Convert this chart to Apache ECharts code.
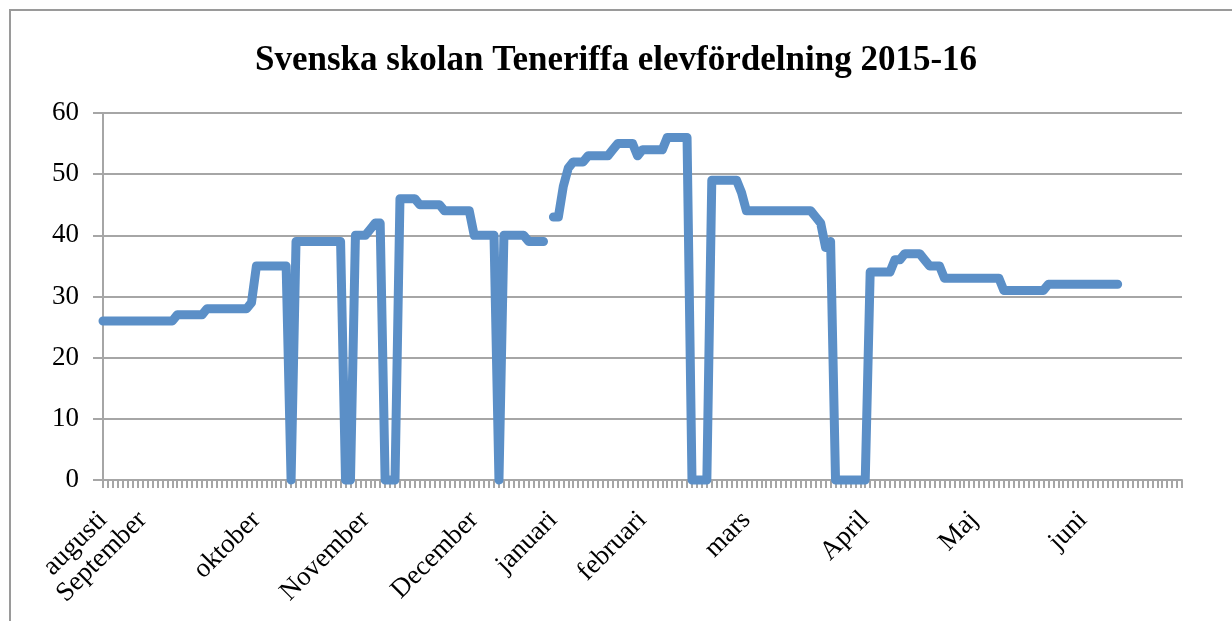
<!DOCTYPE html>
<html>
<head>
<meta charset="utf-8">
<script src="https://cdn.jsdelivr.net/npm/echarts@6/dist/echarts.min.js"></script>
<style>
  html, body { margin: 0; padding: 0; background: #fff; }
  #chart { width: 1232px; height: 621px; }
</style>
</head>
<body>
<div id="chart"></div>
<script>
// månadsetiketter och vilken skoldag (index) de hör till
const monthLabels = ['augusti', 'September', 'oktober', 'November', 'December', 'januari', 'februari', 'mars', 'April', 'Maj', 'juni']
const monthIndex = [0, 8, 31, 53, 75, 91, 109, 130, 154, 176, 198]
const dayCount = 219

// antal elever per skoldag (null = ingen uppgift)
const students = [
  26, 26, 26, 26, 26, 26, 26, 26, 26, 26, 26, 26, 26, 26, 26,
  27, 27, 27, 27, 27, 27,
  28, 28, 28, 28, 28, 28, 28, 28, 28,
  29,
  35, 35, 35, 35, 35, 35, 35,
  0,
  39, 39, 39, 39, 39, 39, 39, 39, 39, 39,
  0, 0,
  40, 40, 40, 41, 42, 42,
  0, 0, 0,
  46, 46, 46, 46,
  45, 45, 45, 45, 45,
  44, 44, 44, 44, 44, 44,
  40, 40, 40, 40, 40,
  0,
  40, 40, 40, 40, 40,
  39, 39, 39, 39,
  null,
  43, 43, 48, 51, 52, 52, 52,
  53, 53, 53, 53, 53,
  54, 55, 55, 55, 55, 53,
  54, 54, 54, 54, 54,
  56, 56, 56, 56, 56,
  0, 0, 0, 0,
  49, 49, 49, 49, 49, 49, 47,
  44, 44, 44, 44, 44, 44, 44, 44, 44, 44, 44, 44, 44, 44,
  43, 42, 38, 39,
  0, 0, 0, 0, 0, 0, 0,
  34, 34, 34, 34, 34,
  36, 36, 37, 37, 37, 37, 36,
  35, 35, 35,
  33, 33, 33, 33, 33, 33, 33, 33, 33, 33, 33, 33,
  31, 31, 31, 31, 31, 31, 31, 31, 31,
  32, 32, 32, 32, 32, 32, 32, 32, 32, 32, 32, 32, 32, 32, 32,
  null, null, null, null, null, null, null, null, null, null, null, null, null
]

const days = []
for (let i = 0; i < dayCount; i++) days.push('')
monthIndex.forEach((d, i) => { days[d] = monthLabels[i] })

const gray = '#a6a6a6'
const serif = '"Liberation Serif", "Times New Roman", serif'

const chart = echarts.init(document.getElementById('chart'))
chart.setOption({
  animation: false,
  backgroundColor: '#fff',
  graphic: [{
    type: 'rect',
    shape: { x: 10, y: 10, width: 1300, height: 700 },
    style: { fill: 'none', stroke: '#9a9a9a', lineWidth: 2 },
    silent: true
  }],
  title: {
    text: 'Svenska skolan Teneriffa elevfördelning 2015-16',
    left: 'center',
    top: 38,
    textStyle: { fontFamily: serif, fontSize: 35, fontWeight: 'bold', color: '#000' }
  },
  grid: { left: 103, right: 50, top: 113, bottom: 141 },
  xAxis: {
    type: 'category',
    data: days,
    boundaryGap: false,
    axisLine: { lineStyle: { color: gray, width: 2 } },
    axisTick: { show: true, interval: 0, length: 8, lineStyle: { color: gray, width: 2 } },
    axisLabel: {
      interval: 0,
      rotate: 45,
      margin: 36,
      fontFamily: serif,
      fontSize: 27,
      color: '#000'
    },
    splitLine: { show: false }
  },
  yAxis: {
    type: 'value',
    min: 0,
    max: 60,
    interval: 10,
    axisLine: { show: true, lineStyle: { color: gray, width: 2 } },
    axisTick: { show: true, length: 10, lineStyle: { color: gray, width: 2 } },
    axisLabel: { margin: 24, fontFamily: serif, fontSize: 27, color: '#000' },
    splitLine: { lineStyle: { color: gray, width: 2 } }
  },
  series: [{
    type: 'line',
    data: students,
    symbol: 'none',
    connectNulls: false,
    clip: false,
    lineStyle: { color: '#5b8fc7', width: 9, cap: 'round', join: 'round' }
  }]
})
</script>
</body>
</html>
